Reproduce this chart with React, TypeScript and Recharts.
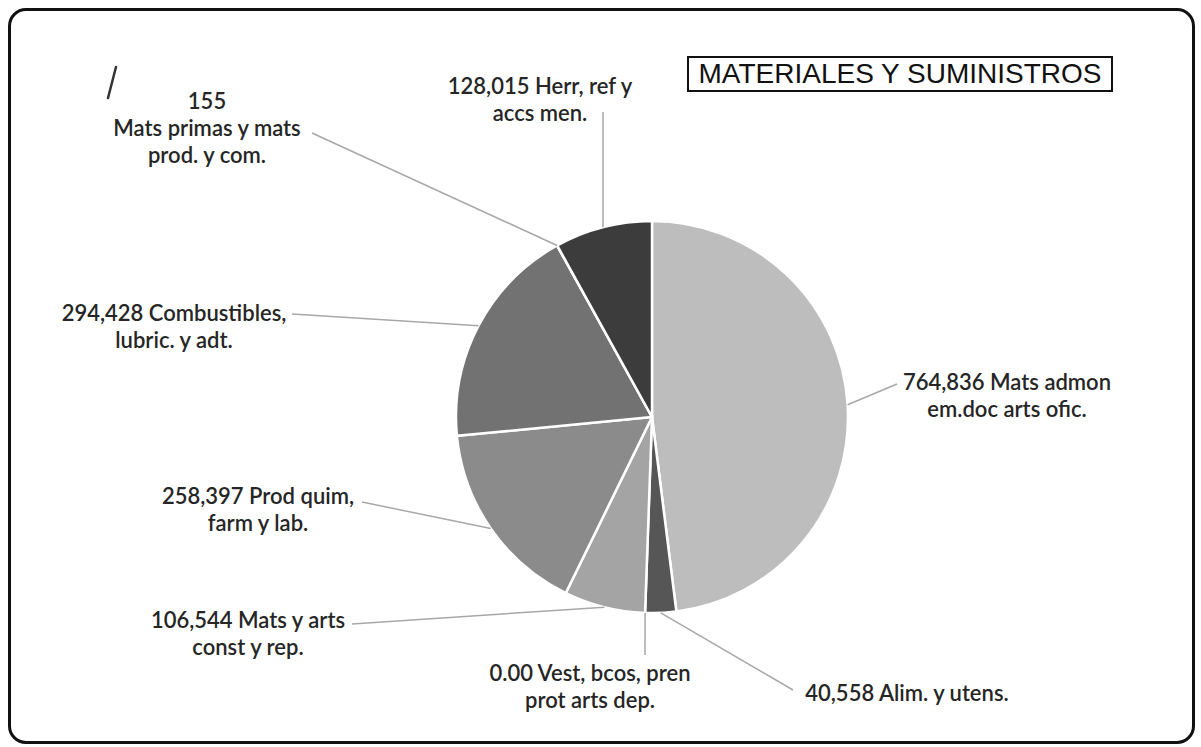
import React from 'react'
import { PieChart, Pie, Cell } from 'recharts'

const categories = [
  'Mats admon em.doc arts ofic.',
  'Alim. y utens.',
  'Vest, bcos, pren prot arts dep.',
  'Mats y arts const y rep.',
  'Prod quim, farm y lab.',
  'Combustibles, lubric. y adt.',
  'Mats primas y mats prod. y com.',
  'Herr, ref y accs men.',
]
const values = [764836, 40558, 0, 106544, 258397, 294428, 155, 128015]
const labelLines = [
  ['Mats admon', 'em.doc arts ofic.'],
  ['Alim. y utens.'],
  ['Vest, bcos, pren', 'prot arts dep.'],
  ['Mats y arts', 'const y rep.'],
  ['Prod quim,', 'farm y lab.'],
  ['Combustibles,', 'lubric. y adt.'],
  ['', 'Mats primas y mats', 'prod. y com.'],
  ['Herr, ref y', 'accs men.'],
]
const colors = ['#bdbdbd', '#565656', '#9a9a9a', '#a4a4a4', '#8b8b8b', '#727272', '#4a4a4a', '#3c3c3c']

const data = categories.map((name, i) => ({ name, value: values[i] }))

// where each label sits (text centre x, first line y) and where its leader ends
const labelLayout = [
  { tx: 1007, ty: 381, ex: 897, ey: 384 },
  { tx: 907, ty: 692, ex: 793, ey: 690 },
  { tx: 590, ty: 672, ex: 645, ey: 655 },
  { tx: 248, ty: 619, ex: 352, ey: 624 },
  { tx: 258, ty: 495, ex: 362, ey: 502 },
  { tx: 174, ty: 312, ex: 292, ey: 314 },
  { tx: 207, ty: 100, ex: 312, ey: 133 },
  { tx: 540, ty: 85, ex: 603, ey: 112 },
]

const RAD = Math.PI / 180
const fmt = (v: number) => (v === 0 ? '0.00' : v.toLocaleString('en-US'))

function renderLabel(props: any) {
  const { cx, cy, midAngle, outerRadius, index, value } = props
  const pos = labelLayout[index]
  if (!pos) return null
  const sx = cx + outerRadius * Math.cos(-midAngle * RAD)
  const sy = cy + outerRadius * Math.sin(-midAngle * RAD)
  const parts = labelLines[index]
  const lines = [`${fmt(value)} ${parts[0]}`.trim(), ...parts.slice(1)]
  return (
    <g key={`lbl-${index}`}>
      <line x1={sx} y1={sy} x2={pos.ex} y2={pos.ey} stroke="#a8a8a8" strokeWidth={1.5} />
      <text
        x={pos.tx}
        y={pos.ty}
        textAnchor="middle"
        dominantBaseline="central"
        fill="#262626"
        fontFamily="Lato, 'Open Sans', sans-serif"
        fontSize={22}
        fontWeight={600}
      >
        {lines.map((l, j) => (
          <tspan key={j} x={pos.tx} dy={j === 0 ? 0 : 27}>
            {l}
          </tspan>
        ))}
      </text>
    </g>
  )
}

export default function App() {
  return (
    <div style={{ position: 'absolute', left: 0, top: 0, width: 1201, height: 747, background: '#fff' }}>
      <div
        style={{
          position: 'absolute',
          left: 8,
          top: 8,
          width: 1187,
          height: 736,
          border: '3px solid #111',
          borderRadius: 18,
          boxSizing: 'border-box',
        }}
      />
      <div
        style={{
          position: 'absolute',
          left: 687,
          top: 56,
          width: 426,
          height: 36,
          border: '2px solid #111',
          boxSizing: 'border-box',
          fontFamily: "'Liberation Sans', Arial, sans-serif",
          fontSize: 28,
          color: '#111',
          display: 'flex',
          alignItems: 'center',
          justifyContent: 'center',
        }}
      >
        MATERIALES Y SUMINISTROS
      </div>
      <svg style={{ position: 'absolute', left: 0, top: 0 }} width={1201} height={747}>
        <line x1={116} y1={67} x2={108} y2={98} stroke="#333" strokeWidth={2.5} strokeLinecap="round" />
      </svg>
      <div style={{ position: 'absolute', left: 0, top: 0 }}>
        <PieChart width={1201} height={747} margin={{ top: 0, right: 0, bottom: 0, left: 0 }}>
          <Pie
            data={data}
            dataKey="value"
            nameKey="name"
            cx={652}
            cy={417}
            outerRadius={196}
            startAngle={90}
            endAngle={-270}
            stroke="#fff"
            strokeWidth={2.5}
            label={renderLabel}
            labelLine={false}
            isAnimationActive={false}
          >
            {data.map((d, i) => (
              <Cell key={d.name} fill={colors[i]} />
            ))}
          </Pie>
        </PieChart>
      </div>
    </div>
  )
}
